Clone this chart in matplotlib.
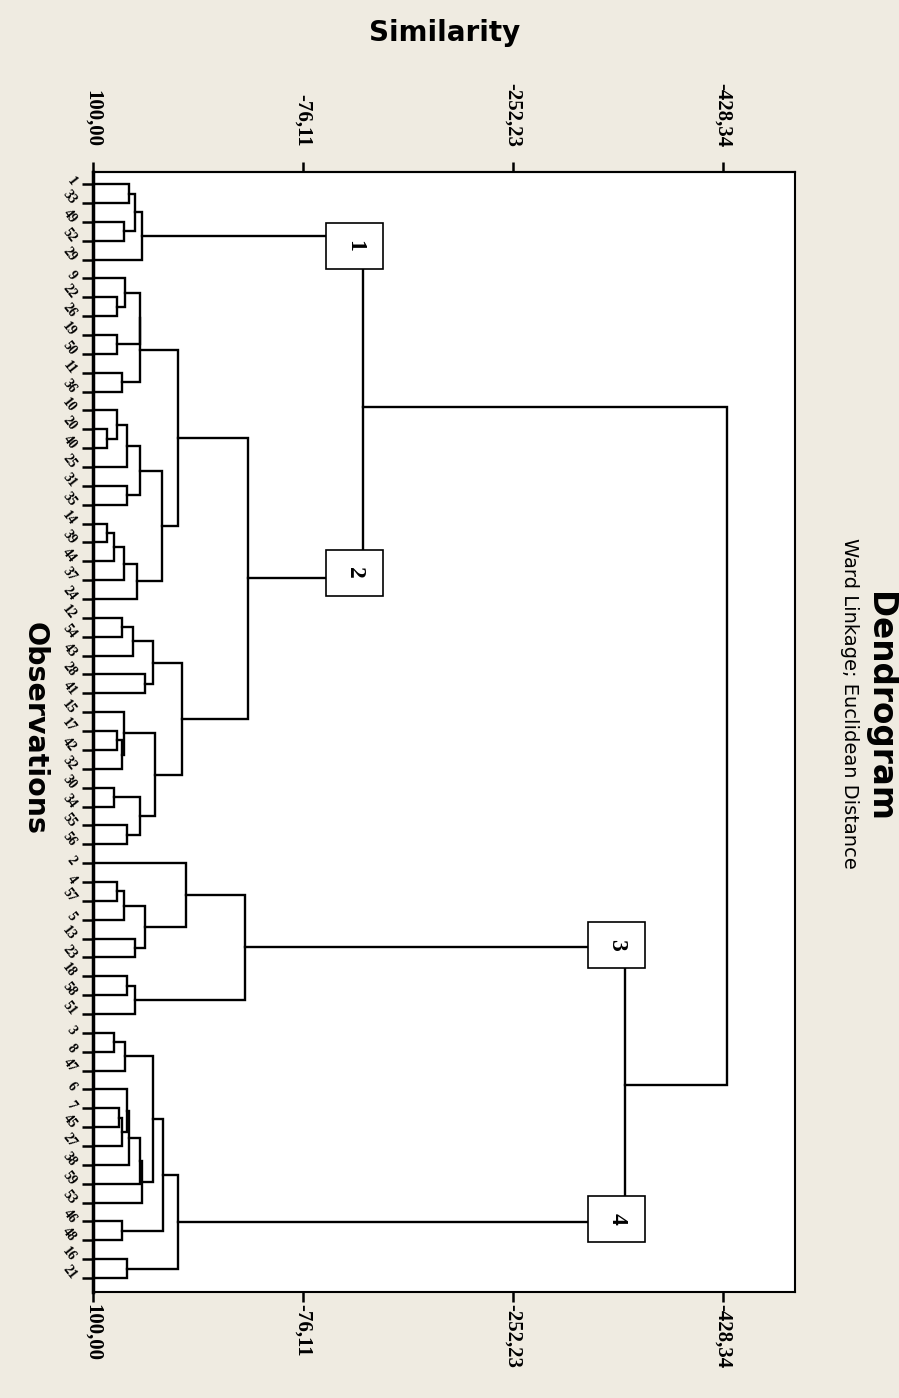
import matplotlib
matplotlib.use('Agg')
import matplotlib.pyplot as plt
from matplotlib.patches import Rectangle

# ---------------- data ----------------
leaf_labels = [1, 33, 49, 52, 29, 9, 22, 26, 19, 50, 11, 36, 10, 20, 40, 25, 31, 35,
               14, 39, 44, 37, 24, 12, 54, 43, 28, 41, 15, 17, 42, 32, 30, 34, 55, 56,
               2, 4, 57, 5, 13, 23, 18, 58, 51, 3, 8, 47, 6, 7, 45, 27, 38, 59, 53,
               46, 48, 16, 21]

sim_ticks = [100.00, -76.11, -252.23, -428.34]
sim_tick_labels = ['100,00', '-76,11', '-252,23', '-428,34']

# merge trees: (left, right, similarity level)
cluster1 = (((1, 33, 69.6), (49, 52, 73.8), 64.8), 29, 58.7)

c2_a = (((9, (22, 26, 79.9), 73.2), (19, 50, 79.6), 61.0), (11, 36, 75.9), 60.2)
c2_b1 = (((10, (20, 40, 88.5), 80.1), 25, 71.2), (31, 35, 71.2), 60.6)
c2_b2 = ((((14, 39, 88.5), 44, 82.1), 37, 73.8), 24, 62.9)
c2_l1 = (((12, 54, 75.9), 43, 66.7), (28, 41, 56.4), 49.4)
c2_l2 = ((15, ((17, 42, 79.6), 32, 75.9), 73.8), ((30, 34, 82.1), (55, 56, 71.2), 60.6), 48.0)
cluster2 = ((c2_a, (c2_b1, c2_b2, 42.4), 28.7), (c2_l1, c2_l2, 25.6), -29.7)

cluster3 = ((2, (((4, 57, 79.9), 5, 73.8), (13, 23, 64.8), 56.4), 22.0),
            ((18, 58, 71.2), 51, 64.8), -27.5)

c4_a = ((3, 8, 82.1), 47, 73.2)
c4_b = ((((6, ((7, 45, 77.9), 27, 75.9), 71.2), 38, 69.6), 59, 60.6), 53, 58.7)
cluster4 = (((c4_a, c4_b, 49.4), (46, 48, 75.9), 41.1), (16, 21, 71.2), 28.5)

top_levels = [-126.4, -346.1, -431.7]   # (1,2), (3,4), all
cluster_ids = ['1', '2', '3', '4']

# ---------------- figure ----------------
W, H = 899, 1398
fig = plt.figure(figsize=(W / 100, H / 100), dpi=100)
fig.patch.set_facecolor('#efebe1')

ax = fig.add_axes([93 / W, 1 - 1292 / H, (795 - 93) / W, (1292 - 172) / H])
ax.set_facecolor('white')

serif = 'Liberation Serif'
LW = 1.7
pos = {lab: i for i, lab in enumerate(leaf_labels)}


def join(pa, pb, h):
    ax.plot([pa[0], h, h, pb[0]], [pa[1], pa[1], pb[1], pb[1]], color='black',
            lw=LW, solid_joinstyle='miter', solid_capstyle='projecting', zorder=2)
    return (h, (pa[1] + pb[1]) / 2.0)


def draw(node):
    if isinstance(node, int):
        return (100.0, pos[node])
    a, b, h = node
    return join(draw(a), draw(b), h)


p1 = draw(cluster1)
p2 = draw(cluster2)
p3 = draw(cluster3)
p4 = draw(cluster4)
p12 = join(p1, p2, top_levels[0])
p34 = join(p3, p4, top_levels[1])
join(p12, p34, top_levels[2])

# cluster boxes
xscale = 176.11 / 210.0  # similarity units per pixel
yscale = 1 / 18.86       # leaf units per pixel
box_dy = [0.55, -0.3, -0.15, -0.15]
for i, (p, parent) in enumerate([(p1, top_levels[0]), (p2, top_levels[0]),
                                 (p3, top_levels[1]), (p4, top_levels[1])]):
    cx = parent + 8 * xscale
    cy = p[1] + box_dy[i]
    bw = 57 * xscale
    bh = 46 * yscale
    ax.add_patch(Rectangle((cx - bw / 2, cy - bh / 2), bw, bh, facecolor='white',
                           edgecolor='black', lw=1.2, zorder=5))
    ax.text(cx, cy, cluster_ids[i], rotation=-90, ha='center', va='center', fontsize=17,
            fontfamily=serif, fontweight='bold', zorder=6)

ax.set_xlim(100, 100 - (795 - 93) * xscale)
ax.set_ylim(58.74, -0.64)

# leaf axis
ax.set_yticks(range(len(leaf_labels)))
ax.set_yticklabels([str(v) for v in leaf_labels], rotation=-52, fontsize=10,
                   fontfamily=serif, fontweight='bold', rotation_mode='anchor',
                   ha='right', va='center')
ax.tick_params(axis='y', direction='out', length=8, width=1.8, pad=6)

# similarity ticks bottom
ax.set_xticks(sim_ticks)
ax.set_xticklabels(sim_tick_labels, rotation=-90, fontsize=15, fontfamily=serif,
                   fontweight='bold', va='top')
ax.tick_params(axis='x', direction='out', length=7, width=1.8, pad=2)

# similarity ticks top
sec = ax.secondary_xaxis('top')
sec.set_xticks(sim_ticks)
sec.set_xticklabels(sim_tick_labels, rotation=-90, fontsize=15, fontfamily=serif,
                    fontweight='bold', va='bottom')
sec.tick_params(axis='x', direction='out', length=7, width=1.8, pad=11)
sec.spines['top'].set_linewidth(1.5)

for s in ax.spines.values():
    s.set_linewidth(1.5)
ax.spines['left'].set_linewidth(2.5)

fig.text(445 / W, 1 - 33 / H, 'Similarity', ha='center', va='center', fontsize=20,
         fontweight='bold')
fig.text(35 / W, 1 - 729 / H, 'Observations', ha='center', va='center', fontsize=20.5,
         fontweight='bold', rotation=-90)
fig.text(880 / W, 1 - 707 / H, 'Dendrogram', ha='center', va='center', fontsize=23.5,
         fontweight='bold', rotation=-90)
fig.text(850 / W, 1 - 703 / H, 'Ward Linkage; Euclidean Distance', ha='center',
         va='center', fontsize=14, rotation=-90)

fig.savefig('out.png', dpi=100, facecolor=fig.get_facecolor())
